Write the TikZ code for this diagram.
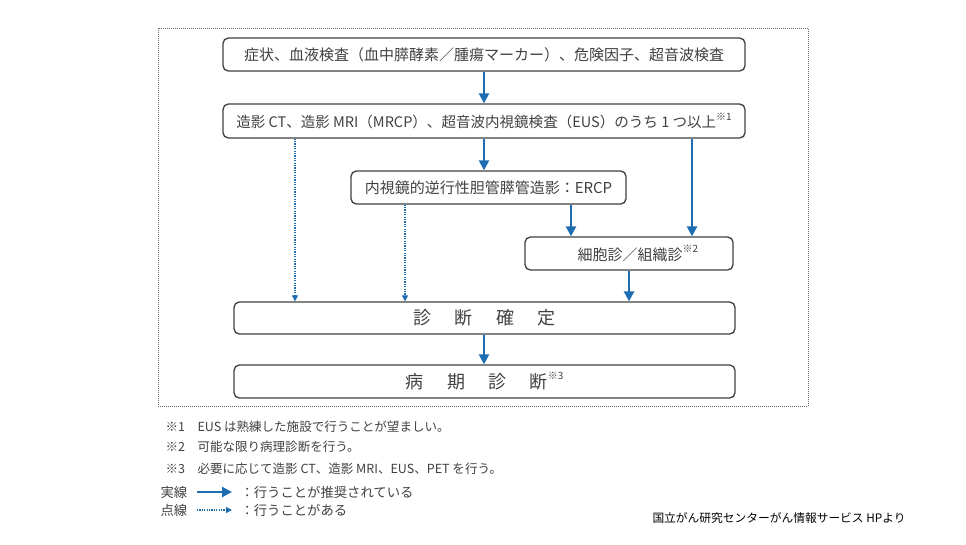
\documentclass[tikz,border=0pt]{standalone}
\usepackage{fontspec}
\setmainfont{Noto Sans CJK JP}
\usetikzlibrary{arrows.meta}

\definecolor{flowblue}{RGB}{30,108,178}
\definecolor{inkgray}{RGB}{64,64,64}
\definecolor{framegray}{RGB}{110,110,110}

\newcommand{\noteref}[1]{\raisebox{0.5em}{\fontsize{7.5}{8}\selectfont ※#1}}

\tikzset{every picture/.style={line width=0.75pt}}
\tikzset{
  flowbox/.style={draw=inkgray, line width=1pt, rounded corners=4pt, text=inkgray, inner sep=0pt, font=\fontsize{11.25}{13}\selectfont},
  bigbox/.style={flowbox, font=\fontsize{13.5}{15}\selectfont},
  solidarrow/.style={draw=flowblue, line width=1.8pt, -{Triangle[length=7.5pt,width=7.5pt]}},
  dotarrow/.style={draw=flowblue, line width=0.9pt, dash pattern=on 0.9pt off 0.9pt, -{Triangle[length=4.5pt,width=4.5pt]}},
  notetext/.style={anchor=west, inner sep=0pt, text=inkgray, font=\fontsize{9.4}{11}\selectfont},
  legendtext/.style={anchor=west, inner sep=0pt, text=inkgray, font=\fontsize{10}{12}\selectfont}
}

\begin{document}
\begin{tikzpicture}[x=0.75pt,y=0.75pt,yscale=-1,xscale=1]
\useasboundingbox (0,0) rectangle (966,544);

%Dotted frame
\draw [framegray, line width=0.6pt, dash pattern=on 0.75pt off 0.75pt] (158,28) rectangle (808,406);

%Rounded Rect
\node [flowbox, minimum width=522*0.75pt, minimum height=33*0.75pt] (sym) at (484,54.5) {症状、血液検査（血中膵酵素／腫瘍マーカー）、危険因子、超音波検査};
%Rounded Rect
\node [flowbox, minimum width=522*0.75pt, minimum height=34*0.75pt, font=\fontsize{10.9}{13}\selectfont] (img) at (484,121) {造影 CT、造影 MRI（MRCP）、超音波内視鏡検査（EUS）のうち 1 つ以上\noteref{1}};
%Rounded Rect
\node [flowbox, minimum width=275*0.75pt, minimum height=33*0.75pt] (ercp) at (488.5,187.5) {内視鏡的逆行性胆管膵管造影：ERCP};
%Rounded Rect
\node [flowbox, minimum width=208*0.75pt, minimum height=33*0.75pt] (cyto) at (629,253.5) {\hspace{1.2em}細胞診／組織診\noteref{2}};
%Rounded Rect
\node [bigbox, minimum width=501*0.75pt, minimum height=32*0.75pt] (diag) at (484.5,318) {診\hspace{1.3em}断\hspace{1.3em}確\hspace{1.3em}定};
%Rounded Rect
\node [bigbox, minimum width=501*0.75pt, minimum height=33*0.75pt] (stage) at (484.5,381.5) {病\hspace{1.3em}期\hspace{1.3em}診\hspace{1.3em}断\noteref{3}};

%Straight Lines
\draw [solidarrow] (sym.south) -- (img.north);
\draw [solidarrow] (img.south) -- (img.south |- ercp.north);
\draw [solidarrow] (img.south -| 692,0) -- (cyto.north -| 692,0);
\draw [solidarrow] (ercp.south -| 571,0) -- (cyto.north -| 571,0);
\draw [solidarrow] (cyto.south) -- (cyto.south |- diag.north);
\draw [solidarrow] (diag.south -| 484,0) -- (stage.north -| 484,0);
%Dotted Lines
\draw [dotarrow] (img.south -| 295,0) -- (diag.north -| 295,0);
\draw [dotarrow] (ercp.south -| 405,0) -- (diag.north -| 405,0);

% Text Node
\node [notetext] (note1) at (165,427) {\makebox[24pt][l]{※1}EUS は熟練した施設で行うことが望ましい。};
% Text Node
\node [notetext] (note2) at (165,447) {\makebox[24pt][l]{※2}可能な限り病理診断を行う。};
% Text Node
\node [notetext] (note3) at (165,469) {\makebox[24pt][l]{※3}必要に応じて造影 CT、造影 MRI、EUS、PET を行う。};
% Text Node
\node [legendtext] (solidlbl) at (160,492) {実線};
\node [legendtext] (solidtxt) at (240,492) {：行うことが推奨されている};
% Text Node
\node [legendtext] (dotlbl) at (160,510) {点線};
\node [legendtext] (dottxt) at (240,510) {：行うことがある};
\coordinate (sa) at (197,492);
\coordinate (sb) at (232,492);
\coordinate (da) at (197,510);
\coordinate (db) at (232,510);
\draw [solidarrow] (sa) -- (sb);
\draw [dotarrow] (da) -- (db);
% Text Node
\node [anchor=west, inner sep=0pt, font=\fontsize{8.8}{10}\selectfont] (src) at (652,518) {国立がん研究センターがん情報サービス HPより};

\end{tikzpicture}
\end{document}
